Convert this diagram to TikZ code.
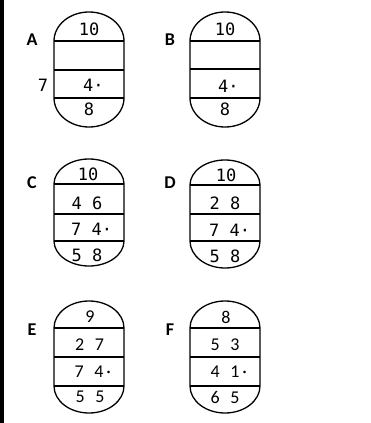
\documentclass[tikz,border=0pt]{standalone}
\usepackage{fontspec}
\setmainfont{Carlito}
\newfontfamily\monof{DejaVu Sans Mono}
\newfontfamily\calf[WordSpace=2.6]{Carlito}
\tikzset{
  outl/.style={line width=1.3pt},
  thk/.style={line width=2pt},
  mono/.style={font=\monof\fontsize{17}{20}\selectfont, inner sep=0pt},
  prop/.style={font=\calf\fontsize{18}{21}\selectfont, inner sep=0pt},
  lbl/.style={font=\bfseries\fontsize{18}{21}\selectfont, inner sep=0pt},
}
% #1 left, #2 y1, #3 y2, #4 y3, #5 top cap height, #6 bottom cap height, #7 style of first line
\newcommand\capsule[7]{%
  \draw[outl] (#1,#2) arc[start angle=180,end angle=0,x radius=35pt,y radius=#5pt]
    -- (#1+70,#4) arc[start angle=0,end angle=-180,x radius=35pt,y radius=#6pt] -- cycle;
  \draw[#7] (#1,#2) -- ++(70,0);
  \draw[outl] (#1,#3) -- ++(70,0);
  \draw[outl] (#1,#4) -- ++(70,0);
}
\begin{document}
\begin{tikzpicture}[x=1pt,y=-1pt]
\useasboundingbox (0,0) rectangle (371,423);
\fill[black] (0,0) rectangle (4,423);

% A
\capsule{54}{41}{70}{98}{29}{29}{outl}
\node[lbl] (labA) at (32,40) {A};
\node[mono] (sideA) at (43,85) {7};
\node[mono] (a1) at (89,29) {10};
\node[mono, anchor=west] (a3) at (83,85) {4·};
\node[mono] (a4) at (89,109) {8};

% B
\capsule{190}{41}{69}{98}{29}{29}{outl}
\node[lbl] (labB) at (170,40) {B};
\node[mono] (b1) at (225,29) {10};
\node[mono, anchor=west] (b3) at (218,86) {4·};
\node[mono] (b4) at (225,109) {8};

% C
\capsule{54}{184}{214}{241}{25}{25}{thk}
\node[lbl] (labC) at (32,183) {C};
\node[mono] (c1) at (88,174) {10};
\node[mono] (c2) at (87,203) {4 6};
\node[mono, anchor=west] (c3) at (71,229) {7 4·};
\node[mono] (c4) at (87,255) {5 8};

% D
\capsule{190}{185}{214}{241}{25}{27}{thk}
\node[lbl] (labD) at (170,183) {D};
\node[mono] (d1) at (226,175) {10};
\node[mono] (d2) at (225,203) {2 8};
\node[mono, anchor=west] (d3) at (209,230) {7 4·};
\node[mono] (d4) at (225,256) {5 8};

% E
\capsule{54}{328}{357}{386}{27}{27}{outl}
\node[lbl] (labE) at (32,330) {E};
\node[prop] (e1) at (90,317) {9};
\node[prop] (e2) at (89.5,345) {2 7};
\node[prop, anchor=west] (e3) at (74.4,372) {7 4\kern3pt·};
\node[prop] (e4) at (90,397) {5 5};

% F
\capsule{190}{328}{357}{386}{27}{27}{outl}
\node[lbl] (labF) at (170,330) {F};
\node[prop] (f1) at (226,317) {8};
\node[prop] (f2) at (225,345) {5 3};
\node[prop, anchor=west] (f3) at (210.4,372) {4 1\kern3pt·};
\node[prop] (f4) at (225,397) {6 5};
\end{tikzpicture}
\end{document}
